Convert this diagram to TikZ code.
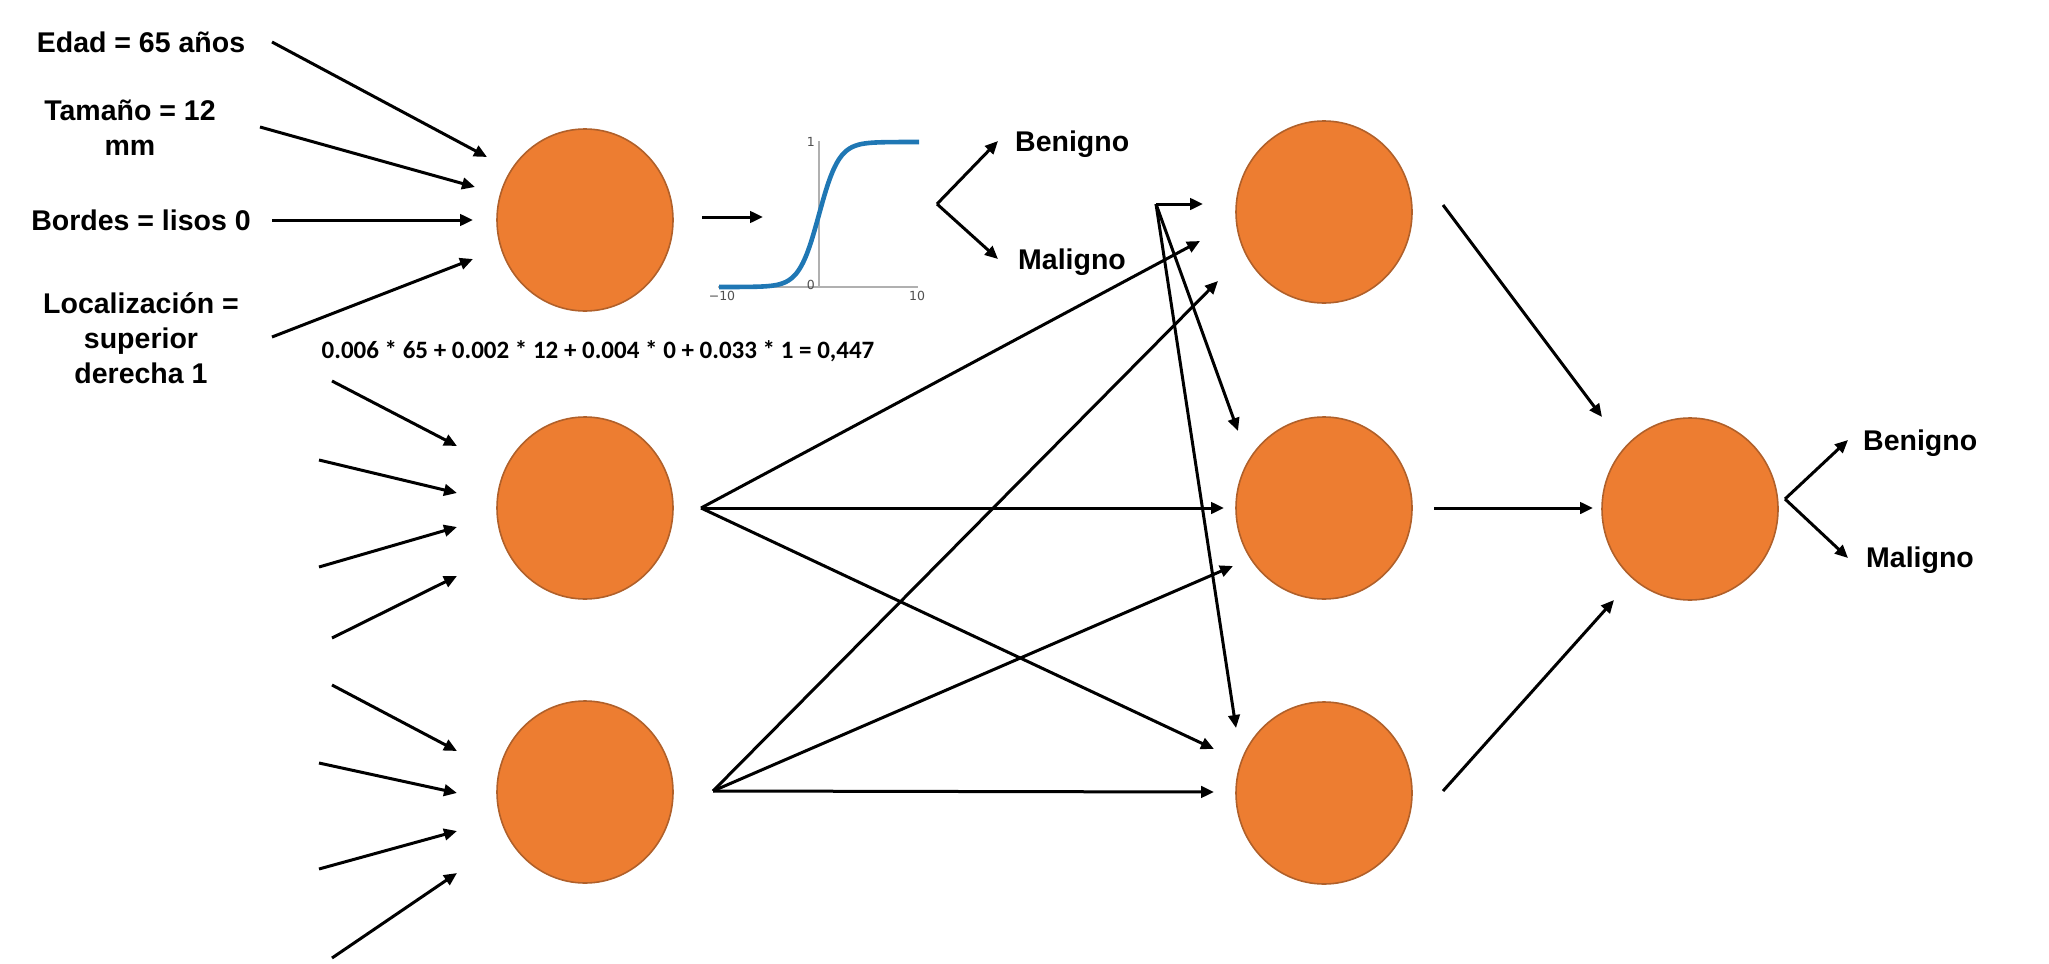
\documentclass[tikz,border=0pt]{standalone}
\usepackage{fontspec}
\setmainfont{Liberation Sans}
\newfontfamily\calib{Carlito}
\newfontfamily\dvs{DejaVu Sans}
\usetikzlibrary{arrows.meta,shapes.geometric}
\definecolor{neuronfill}{HTML}{ED7D31}
\definecolor{neuronline}{HTML}{B0602A}
\definecolor{sigblue}{HTML}{1F77B4}
\definecolor{axisgray}{HTML}{B0B0B0}
\definecolor{tickgray}{HTML}{505050}
\tikzset{
  neu/.style={ellipse, minimum width=176pt, minimum height=182pt, inner sep=0pt,
              fill=neuronfill, draw=neuronline, line width=1.6pt},
  lab/.style={font=\fontsize{28.5}{35}\selectfont\bfseries, inner sep=0pt, align=center},
  arr/.style={line width=3pt, -{Triangle[length=13pt,width=11.5pt]}},
  ticklab/.style={font=\dvs\fontsize{12.5}{14}\selectfont, text=tickgray, inner sep=0pt}
}
\begin{document}
\begin{tikzpicture}[x=1pt,y=-1pt]
\useasboundingbox (0,0) rectangle (2049,963);

% neurons
\node[neu] (h1) at (585,220) {};
\node[neu] (h2) at (585,508) {};
\node[neu] (h3) at (585,792) {};
\node[neu] (m1) at (1324,212) {};
\node[neu] (m2) at (1324,508) {};
\node[neu] (m3) at (1324,793) {};
\node[neu] (o) at (1690,509) {};

% input labels (base = baseline of last line)
\node[lab, anchor=base] (edad) at (141,53) {Edad = 65 años};
\node[lab, anchor=base] (tam) at (130,155) {Tamaño = 12\\mm};
\node[lab, anchor=base] (bor) at (141,230) {Bordes = lisos 0};
\node[lab, anchor=base] (loc) at (141,383) {Localización =\\superior\\derecha 1};

% inputs of neuron 1
\coordinate (a1s) at (272,42);  \coordinate (a1e) at (487,157);
\coordinate (a2s) at (260,127); \coordinate (a2e) at (475,187);
\coordinate (a3s) at (272,220); \coordinate (a3e) at (473,220);
\coordinate (a4s) at (272,337); \coordinate (a4e) at (473,259);
\draw[arr] (a1s) -- (a1e);
\draw[arr] (a2s) -- (a2e);
\draw[arr] (a3s) -- (a3e);
\draw[arr] (a4s) -- (a4e);

% inputs of neuron 2
\coordinate (b1s) at (332,381); \coordinate (b1e) at (457,446);
\coordinate (b2s) at (319,460); \coordinate (b2e) at (457,493);
\coordinate (b3s) at (319,567); \coordinate (b3e) at (457,527);
\coordinate (b4s) at (332,638); \coordinate (b4e) at (457,576);
\draw[arr] (b1s) -- (b1e);
\draw[arr] (b2s) -- (b2e);
\draw[arr] (b3s) -- (b3e);
\draw[arr] (b4s) -- (b4e);

% inputs of neuron 3
\coordinate (c1s) at (332,685); \coordinate (c1e) at (457,751);
\coordinate (c2s) at (319,763); \coordinate (c2e) at (457,793);
\coordinate (c3s) at (319,869); \coordinate (c3e) at (457,831);
\coordinate (c4s) at (332,958); \coordinate (c4e) at (457,873);
\draw[arr] (c1s) -- (c1e);
\draw[arr] (c2s) -- (c2e);
\draw[arr] (c3s) -- (c3e);
\draw[arr] (c4s) -- (c4e);

% formula
\node[anchor=base, inner sep=0pt, font=\calib\bfseries\fontsize{25}{30}\selectfont] (formula) at (598,358)
  {0.006 * 65 + 0.002 * 12 + 0.004 * 0 + 0.033 * 1 = 0,447};

% sigmoid plot
\coordinate (sgs) at (702,217); \coordinate (sge) at (763,217);
\draw[arr] (sgs) -- (sge);
\draw[axisgray, line width=1.3pt] (718,287) -- (918,287);
\draw[axisgray, line width=1.3pt] (819,287) -- (819,141);
\draw[sigblue, line width=4.6pt] plot[domain=-10:10, samples=120, smooth]
  ({819+10*\x}, {287-145/(1+exp(min(-\x,9)))});
\node[ticklab, anchor=east] (t1) at (815,142) {1};
\node[ticklab, anchor=east] (t0) at (815,285) {0};
\node[ticklab, anchor=north] (tm10) at (722,291) {−10};
\node[ticklab, anchor=north] (tp10) at (917,291) {10};

% first output split
\coordinate (sv) at (937,204);
\coordinate (sb) at (998,141);
\coordinate (sm) at (998,259);
\draw[arr] (sv) -- (sb);
\draw[arr] (sv) -- (sm);
\node[lab, anchor=base west] (ben1) at (1015,151) {Benigno};
\node[lab, anchor=base west] (mal1) at (1018,269) {Maligno};

% hidden layer 1 -> hidden layer 2
\coordinate (v1) at (1156,204);
\coordinate (v2) at (701,508);
\coordinate (v3) at (713,791);
\coordinate (e11) at (1203,204);
\coordinate (e12) at (1238,431);
\coordinate (e13) at (1236,728);
\coordinate (e21) at (1200,241);
\coordinate (e22) at (1224,508);
\coordinate (e23) at (1214,749);
\coordinate (e31) at (1218,281);
\coordinate (e32) at (1233,566);
\coordinate (e33) at (1214,792);
\draw[arr] (v1) -- (e11);
\draw[arr] (v1) -- (e12);
\draw[arr] (v1) -- (e13);
\draw[arr] (v2) -- (e21);
\draw[arr] (v2) -- (e22);
\draw[arr] (v2) -- (e23);
\draw[arr] (v3) -- (e31);
\draw[arr] (v3) -- (e32);
\draw[arr] (v3) -- (e33);

% hidden layer 2 -> output
\coordinate (f1s) at (1443,205); \coordinate (f1e) at (1602,417);
\coordinate (f2s) at (1434,508); \coordinate (f2e) at (1593,508);
\coordinate (f3s) at (1443,791); \coordinate (f3e) at (1614,600);
\draw[arr] (f1s) -- (f1e);
\draw[arr] (f2s) -- (f2e);
\draw[arr] (f3s) -- (f3e);

% final split
\coordinate (ov) at (1785,499);
\coordinate (ob) at (1848,440);
\coordinate (om) at (1848,558);
\draw[arr] (ov) -- (ob);
\draw[arr] (ov) -- (om);
\node[lab, anchor=base west] (ben2) at (1863,450) {Benigno};
\node[lab, anchor=base west] (mal2) at (1866,567) {Maligno};
\end{tikzpicture}
\end{document}
